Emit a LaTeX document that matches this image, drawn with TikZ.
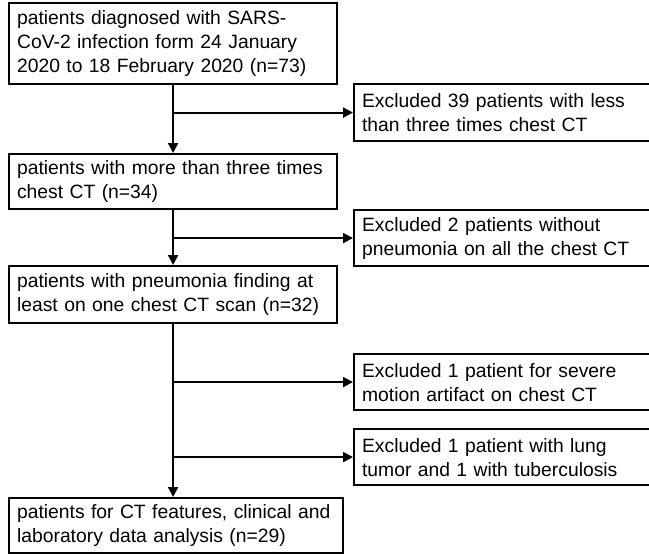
\documentclass[tikz,border=0pt]{standalone}
\usepackage{fontspec}
\setmainfont{Liberation Sans}
\usetikzlibrary{arrows.meta, positioning, calc}

\begin{document}
\begin{tikzpicture}[x=1pt, y=-1pt,
    box/.style={draw, line width=2.2pt, anchor=north west, align=left, inner xsep=8pt,
        font=\fontsize{19.3}{24}\selectfont},
    arr/.style={line width=2pt, -{Triangle[length=10pt, width=10pt]}}]
\useasboundingbox (0,0) rectangle (649,555);

% Main boxes
\node[box, minimum width=326pt, minimum height=81pt, text width=312pt] (all) at (8,2)
    {patients diagnosed with SARS-\\CoV-2 infection form 24 January\\2020 to 18 February 2020 (n=73)};
\node[box, minimum width=326pt, minimum height=55pt, text width=312pt] (ct) at (8,153)
    {patients with more than three times\\chest CT (n=34)};
\node[box, minimum width=326pt, minimum height=57pt, text width=312pt] (pneu) at (8,265)
    {patients with pneumonia finding at\\least on one chest CT scan (n=32)};
\node[box, minimum width=332pt, minimum height=55pt, text width=318pt] (final) at (8,497)
    {patients for CT features, clinical and\\laboratory data analysis (n=29)};

% Excluded boxes
\node[box, minimum width=295pt, minimum height=57pt, text width=281pt] (exA) at (353,83)
    {Excluded 39 patients with less\\than three times chest CT};
\node[box, minimum width=295pt, minimum height=56pt, text width=281pt] (exB) at (353,209)
    {Excluded 2 patients without\\pneumonia on all the chest CT};
\node[box, minimum width=295pt, minimum height=56pt, text width=281pt] (exC) at (353,353)
    {Excluded 1 patient for severe\\motion artifact on chest CT};
\node[box, minimum width=295pt, minimum height=56pt, text width=281pt] (exD) at (353,428)
    {Excluded 1 patient with lung\\tumor and 1 with tuberculosis};

% Arrows down
\draw[arr] (all.south) -- (ct.north);
\draw[arr] (ct.south) -- (pneu.north);
\draw[arr] (pneu.south) -- (pneu.south |- final.north);

% Arrows right
\draw[arr] (all.south |- exA.west) -- (exA.west);
\draw[arr] (ct.south |- exB.west) -- (exB.west);
\draw[arr] (pneu.south |- exC.west) -- (exC.west);
\draw[arr] (pneu.south |- exD.west) -- (exD.west);
\end{tikzpicture}
\end{document}
